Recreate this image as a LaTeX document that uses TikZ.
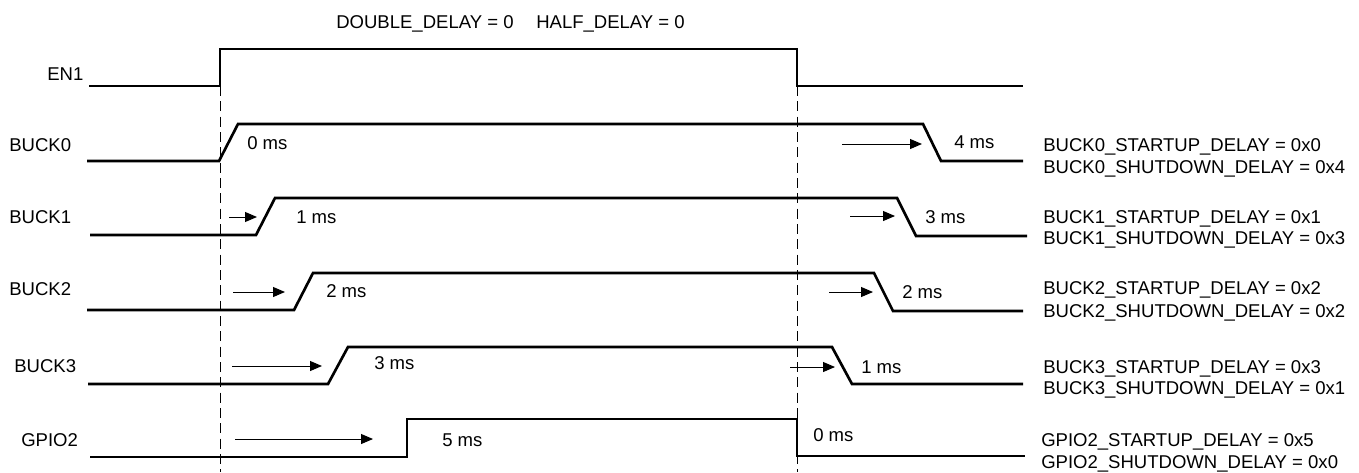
\documentclass[tikz,border=0pt]{standalone}
\usepackage{fontspec}
\setmainfont{Liberation Sans}
\usetikzlibrary{arrows.meta}
\begin{document}
\begin{tikzpicture}[x=0.75pt,y=-0.75pt,
  sig/.style={line width=2pt, line join=miter},
  guide/.style={line width=0.75pt, dash pattern=on 7.5pt off 4pt},
  delay/.style={line width=0.75pt, -{Triangle[length=9pt,width=7.5pt]}},
  lbl/.style={anchor=base west, inner sep=0pt, font=\fontsize{13.9pt}{16.5pt}\selectfont}]
\useasboundingbox (0,0) rectangle (1359,472);

% title
\node[lbl] (title) at (336,28.6) {DOUBLE\_DELAY = 0\hspace{17pt}HALF\_DELAY = 0};

% signal names
\node[lbl] (nEN1)   at (47,80.6)  {EN1};
\node[lbl] (nBUCK0) at (9,151.6)  {BUCK0};
\node[lbl] (nBUCK1) at (9,223.6)  {BUCK1};
\node[lbl] (nBUCK2) at (9,295.6)  {BUCK2};
\node[lbl] (nBUCK3) at (14,372.6) {BUCK3};
\node[lbl] (nGPIO2) at (21,446.6) {GPIO2};

% guide lines
\coordinate (g1t) at (220,86);  \coordinate (g1b) at (220,472);
\coordinate (g2t) at (797,86);  \coordinate (g2b) at (797,472);
\draw[guide] (g1t) -- (g1b);
\draw[guide] (g2t) -- (g2b);

% waveforms
\draw[sig] (89,86) -- (220,86) -- (220,49) -- (797,49) -- (797,86) -- (1023,86);
\draw[sig] (87,161) -- (219,161) -- (238,124) -- (923,124) -- (941,161) -- (1023,161);
\draw[sig] (90,235) -- (256,235) -- (275,198) -- (897,198) -- (916,236) -- (1027,236);
\draw[sig] (87,310) -- (294,310) -- (313,273) -- (874,273) -- (893,311) -- (1023,311);
\draw[sig] (88,384) -- (328,384) -- (348,347) -- (832,347) -- (852,384) -- (1023,384);
\draw[sig] (90,457) -- (407,457) -- (407,419) -- (797,419) -- (797,456) -- (1025,456);

% startup delay arrows
\draw[delay] (229,217) -- (257,217);
\draw[delay] (233,292) -- (285,292);
\draw[delay] (232,366) -- (322,366);
\draw[delay] (235,439) -- (373,439);
% shutdown delay arrows
\draw[delay] (842,144) -- (922,144);
\draw[delay] (850,216) -- (895,216);
\draw[delay] (829,292) -- (873,292);
\draw[delay] (790,367) -- (835,367);

% delay labels
\node[lbl] (u0) at (247,149.6) {0 ms};
\node[lbl] (u1) at (296,223.6) {1 ms};
\node[lbl] (u2) at (326,297.6) {2 ms};
\node[lbl] (u3) at (374,369.6) {3 ms};
\node[lbl] (u5) at (442,446.6) {5 ms};
\node[lbl] (d4) at (954,148.6) {4 ms};
\node[lbl] (d3) at (925,223.6) {3 ms};
\node[lbl] (d2) at (902,298.6) {2 ms};
\node[lbl] (d1) at (861,373.6) {1 ms};
\node[lbl] (d0) at (813,441.6) {0 ms};

% register settings
\node[lbl] (r0s) at (1043,151.6) {BUCK0\_STARTUP\_DELAY = 0x0};
\node[lbl] (r0d) at (1043,173.6) {BUCK0\_SHUTDOWN\_DELAY = 0x4};
\node[lbl] (r1s) at (1043,223.6) {BUCK1\_STARTUP\_DELAY = 0x1};
\node[lbl] (r1d) at (1043,244.6) {BUCK1\_SHUTDOWN\_DELAY = 0x3};
\node[lbl] (r2s) at (1043,294.6) {BUCK2\_STARTUP\_DELAY = 0x2};
\node[lbl] (r2d) at (1043,317.6) {BUCK2\_SHUTDOWN\_DELAY = 0x2};
\node[lbl] (r3s) at (1043,373.6) {BUCK3\_STARTUP\_DELAY = 0x3};
\node[lbl] (r3d) at (1043,394.6) {BUCK3\_SHUTDOWN\_DELAY = 0x1};
\node[lbl] (r4s) at (1041,446.6) {GPIO2\_STARTUP\_DELAY = 0x5};
\node[lbl] (r4d) at (1041,468.6) {GPIO2\_SHUTDOWN\_DELAY = 0x0};
\end{tikzpicture}
\end{document}
